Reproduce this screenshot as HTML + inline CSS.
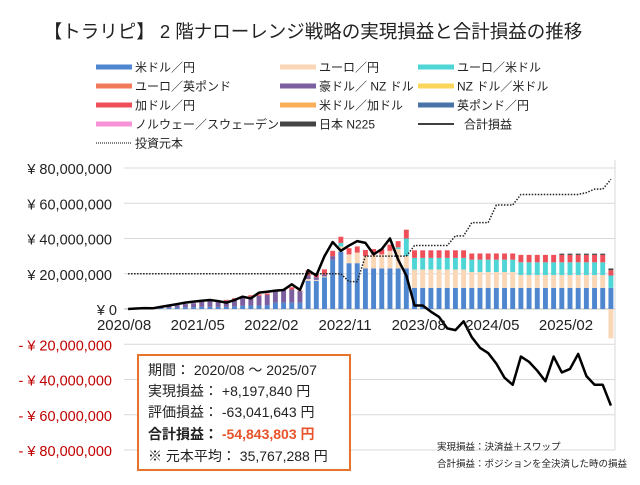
<!DOCTYPE html>
<html><head><meta charset="utf-8"><style>
body{margin:0;width:640px;height:480px;background:#fff;overflow:hidden;font-family:"Liberation Sans","Noto Sans CJK JP",sans-serif}
svg text{font-family:"Liberation Sans","Noto Sans CJK JP",sans-serif}
</style></head><body>
<svg id="c" width="640" height="480">
<text x="313" y="38" font-size="18.5" text-anchor="middle" fill="#222">【トラリピ】 2 階ナローレンジ戦略の実現損益と合計損益の推移</text>
<g id="legend"></g>
<g id="grid"></g><g id="bars"></g><g id="lines"></g><g id="axes"></g>
<g>
<rect x="138" y="355" width="212" height="115" fill="#fff" stroke="#e8732a" stroke-width="2"/>
<text x="148" y="375" font-size="14" fill="#222">期間： 2020/08 ～ 2025/07</text>
<text x="148" y="396" font-size="14" fill="#222">実現損益： +8,197,840 円</text>
<text x="148" y="417" font-size="14" fill="#222">評価損益： -63,041,643 円</text>
<text x="148" y="439" font-size="14" font-weight="bold" fill="#222">合計損益： <tspan fill="#e8532a">-54,843,803 円</tspan></text>
<text x="148" y="461" font-size="14" fill="#222">※ 元本平均： 35,767,288 円</text>
</g>
<text x="437" y="450" font-size="9.5" fill="#222">実現損益：決済益＋スワップ</text>
<text x="437" y="467" font-size="9.5" fill="#222">合計損益：ポジションを全決済した時の損益</text>
</svg>
<script>
const months=["2020/08","2020/09","2020/10","2020/11","2020/12","2021/01","2021/02","2021/03","2021/04","2021/05","2021/06","2021/07","2021/08","2021/09","2021/10","2021/11","2021/12","2022/01","2022/02","2022/03","2022/04","2022/05","2022/06","2022/07","2022/08","2022/09","2022/10","2022/11","2022/12","2023/01","2023/02","2023/03","2023/04","2023/05","2023/06","2023/07","2023/08","2023/09","2023/10","2023/11","2023/12","2024/01","2024/02","2024/03","2024/04","2024/05","2024/06","2024/07","2024/08","2024/09","2024/10","2024/11","2024/12","2025/01","2025/02","2025/03","2025/04","2025/05","2025/06","2025/07"];
const xTicks=["2020/08","2021/05","2022/02","2022/11","2023/08","2024/05","2025/02"];
const yTicks=[80,60,40,20,0,-20,-40,-60,-80];
const usdjpy=[0.1,0.2,0.2,0.3,0.5,0.6,0.8,1,1,1.2,1.2,1.2,1.2,1.5,1.8,2,2,2.2,3.6,3.6,3.6,3.6,16,16,18,28,32.5,26,26,23,23,23,23,23,23,12,12,12,12,12,12,12,12,12,12,12,12,12,12,12,12,12,12,12,12,12,12,12,12,12];
const eurjpy=[0,0,0,0,0,0,0,0,0,0,0,0,0,0,0,0,0,0,0,0,0,0,1,0.5,0.5,0,3,5,6,7,8,8,10,11,7,10.4,10.4,10.4,10.4,10.4,10.4,10.4,9,9,9,9,9,9,7.3,7.3,7.3,7.3,7.3,7.3,7.3,7.3,7.3,7.3,7.3,-16.6];
const eurusd=[0,0,0,0,0,0,0,0,0,0,0,0,0,0,0,0,0,0,0,0,0,0,0,0,0,0,2,0,0,0,0,0,0,1,10,6.6,6.6,6.6,6.6,6.6,6.6,6.6,7,7,7,7,7,7,7.2,7.2,7.2,7.2,7.2,7.2,7.2,7.2,7.2,7.2,7.2,7];
const audnzd=[0.1,0.1,0.2,0.3,0.5,1,1.4,1.8,2.3,2.8,3.3,3,3.5,4,4.5,5,5.5,5.8,6.5,7,7.5,6.5,2,1.5,1,2,0,0,0,0,0,0,0,0,0,0,0,0,0,0,0,0,0,0,0,0,0,0,0,0,0,0,0,0,0,0,0,0,0,0];
const cadjpy=[0,0,0,0,0,0,0,0,0,0,0.3,0.3,0.5,0.6,0.7,0.8,0.8,0.8,0.5,0.5,1.2,0.3,3,2,3,3,3.5,3.5,3.5,3.5,3,3,3.5,3.5,5,4.3,4.3,4.3,4.3,4.3,4.3,4.3,3.5,3.5,3.5,3.5,3.5,3.5,4.2,4.2,4.2,4.2,4.2,4.2,4.2,4.2,4.2,4.2,4.2,3];
const n225=[0,0,0,0,0,0,0,0,0,0,0,0,0,0,0,0,0,0,0,0,0,0,0,0,0,0,0,0,0,0,0,0,0,0,0,0,0,0,0,0,0,0,0,0,0,0,0,0,0,0,0,0,0,0.7,0.7,0.7,0.7,0.7,0.7,1];
const totalPL=[0,0.3,0.5,0.4,1.2,2,2.8,3.6,4.2,4.7,5.1,4.5,3.6,5.1,7,6,9.3,9.8,10.4,10.8,14,10.8,22,19,30,38,33,36,38.5,37.5,31,34,40,28,19,2,2,-1.5,-4.5,-11,-12,-7,-16,-22,-25,-31,-39,-43,-27,-30,-35,-41,-27,-36,-34,-25.5,-38,-43,-43,-54.8];
const principal=[20,20,20,20,20,20,20,20,20,20,20,20,20,20,20,20,20,20,20,20,20,20,20,20,20,20,20,15.5,15.5,30,30,30,30,30,30,36,36,36,36,36,41.5,41.5,49,49,49,59,59,59,65,65,65,65,65,65,65,65,66,68,68,73.6];

const NS="http://www.w3.org/2000/svg";
const X0=124,X1=615,Y80=168,Y0=309;
const bw=(X1-X0)/months.length;
function xc(i){return X0+(i+0.5)*bw;}
function y(v){return Y0-v*(Y0-Y80)/80;}
function mk(p,t,a){const e=document.createElementNS(NS,t);for(const k in a)e.setAttribute(k,a[k]);p.appendChild(e);return e;}
const grid=document.getElementById('grid'),axes=document.getElementById('axes'),bars=document.getElementById('bars'),lines=document.getElementById('lines'),leg=document.getElementById('legend');
yTicks.forEach(v=>{
  const g=mk(grid,'line',{x1:X0,x2:X1,y1:y(v),y2:y(v),stroke:v===0?'#bfbfbf':'#d9d9d9','stroke-width':1});
  
  
  const lab=(v<0?'- ':'')+'¥ '+(v===0?'0':Math.abs(v*1000000).toLocaleString('en-US'));
  const t=mk(axes,'text',{x:v===0?117:112,y:y(v)+6,'font-size':14.5,'text-anchor':'end',fill:v<0?'#c00000':'#222'});
  t.textContent=lab;
  
  
});
const rb=mk(grid,'line',{x1:X1,x2:X1,y1:Y80-8,y2:y(-80),stroke:'#d9d9d9'});


xTicks.forEach(m=>{
  const i=months.indexOf(m);
  const t=mk(axes,'text',{x:xc(i)-4,y:330,'font-size':15,'text-anchor':'middle',fill:'#222'});
  t.textContent=m;
  
  
});
const series=[[usdjpy,'#4e86d0','bar-usdjpy'],[eurjpy,'#f9d7b7','bar-eurjpy'],[eurusd,'#4fd5d6','bar-eurusd'],[audnzd,'#7c5f9e','bar-audnzd'],[cadjpy,'#ef4f58','bar-cadjpy'],[n225,'#444','bar-n225']];
for(let i=0;i<months.length;i++){
  let pos=0,neg=0;
  series.forEach(s=>{
    const v=s[0][i];if(!v)return;
    let a,b;
    if(v>0){a=pos;b=pos+v;pos=b;}else{a=neg;b=neg+v;neg=b;}
    const r=mk(bars,'rect',{x:xc(i)-bw*0.3,width:bw*0.6,y:Math.min(y(a),y(b)),height:Math.abs(y(a)-y(b)),fill:s[1]});
    
    
  });
}
const pl=mk(lines,'polyline',{points:principal.map((v,i)=>xc(i)+','+y(v)).join(' '),fill:'none',stroke:'#222','stroke-width':1.5,'stroke-dasharray':'1.5 1.5'});


const tl=mk(lines,'polyline',{points:totalPL.map((v,i)=>xc(i)+','+y(v)).join(' '),fill:'none',stroke:'#000','stroke-width':2.5,'stroke-linejoin':'round'});


const legItems=[['米ドル／円','#4e86d0',0,0,'r'],['ユーロ／円','#f9d7b7',1,0,'r'],['ユーロ／米ドル','#4fd5d6',2,0,'r'],
['ユーロ／英ポンド','#f07a5a',0,1,'r'],['豪ドル／ NZ ドル','#7c5f9e',1,1,'r'],['NZ ドル／米ドル','#fcd65a',2,1,'r'],
['加ドル／円','#ef4f58',0,2,'r'],['米ドル／加ドル','#fbb058',1,2,'r'],['英ポンド／円','#4a74a8',2,2,'r'],
['ノルウェー／スウェーデン','#f794d8',0,3,'r'],['日本 N225','#444',1,3,'r'],['合計損益','#000',2,3,'l'],['投資元本','#000',0,4,'d']];
const cx=[96,280,418],ry=[67,86,105,124,143];
legItems.forEach(it=>{
  const x=cx[it[2]],yy=ry[it[3]];
  const g=mk(leg,'g',{});
  
  
  if(it[4]==='r')mk(g,'rect',{x:x,y:yy-2.5,width:36,height:5,fill:it[1]});
  else if(it[4]==='l')mk(g,'line',{x1:x,x2:x+36,y1:yy,y2:yy,stroke:'#000','stroke-width':1.5});
  else mk(g,'line',{x1:x,x2:x+36,y1:yy,y2:yy,stroke:'#000','stroke-width':1,'stroke-dasharray':'1 1'});
  const t=mk(g,'text',{x:it[4]==='l'?x+46:x+39,y:yy+4.5,'font-size':12,fill:'#222'});
  t.textContent=it[0];
});
</script>
</body></html>
